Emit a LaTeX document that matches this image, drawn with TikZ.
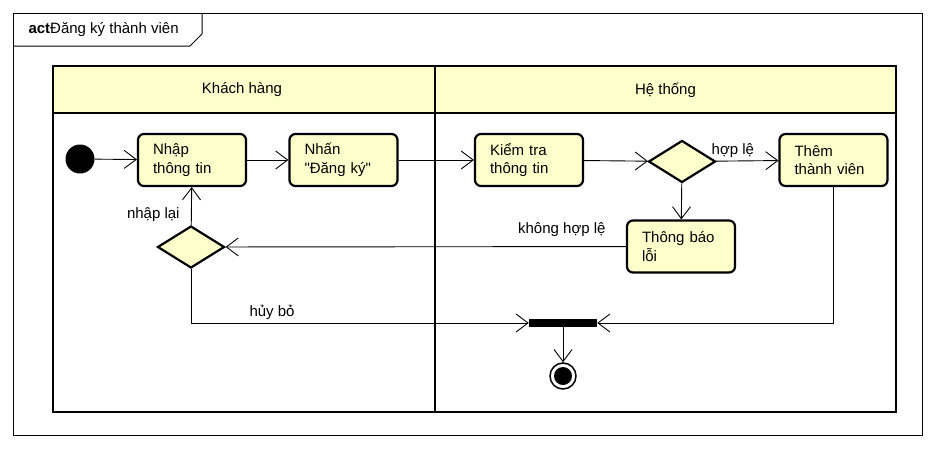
\documentclass[tikz,border=0pt]{standalone}
\usepackage{fontspec}
\setmainfont{Liberation Sans}
\usetikzlibrary{shapes.geometric,arrows.meta}

\definecolor{umlyellow}{RGB}{255,255,204}

\begin{document}
\begin{tikzpicture}[x=1pt, y=-1pt, font=\fontsize{15}{18.5}\selectfont]
    \tikzstyle{block} = [rectangle, rounded corners=6pt, draw, line width=2.2pt, fill=umlyellow, align=left, text width=78pt, inner xsep=15pt, inner ysep=0pt, minimum height=52pt]
    \tikzstyle{choice} = [diamond, draw, line width=2.2pt, fill=umlyellow, minimum width=67pt, minimum height=42pt, inner sep=0pt]
    \tikzstyle{lane} = [line width=2.2pt]
    \tikzstyle{arrow} = [->, >={Straight Barb[length=12pt,width=18pt]}, line width=0.9pt]

    \useasboundingbox (0,0) rectangle (936,448);

    % frame
    \draw [line width=1pt] (13,13) rectangle (922,435);
    \draw [line width=1pt] (13,46) -- (190,46) -- (202,34) -- (202,13);
    \node (title) [anchor=west] at (25,30) {\textbf{act}Đăng ký thành viên};

    % swimlanes
    \fill [umlyellow] (53,66) rectangle (896,113);
    \draw [lane] (53,66) rectangle (896,412);
    \draw [lane] (53,113) -- (896,113);
    \draw [lane] (435,66) -- (435,412);
    \node (customer) at (242,90) {Khách hàng};
    \node (system) at (665.5,90) {Hệ thống};

    \node (start) [circle, fill=black, minimum size=29pt, inner sep=0pt] at (80,159) {};
    \node (enter) [block] at (192,160) {Nhập\\thông tin};
    \node (press) [block] at (343.5,160) {Nhấn\\\textquotedbl Đăng ký\textquotedbl};
    \node (check) [block] at (529,160) {Kiểm tra\\thông tin};
    \node (valid) [choice] at (682,161.5) {};
    \node (add) [block] at (833.5,160) {Thêm\\thành viên};
    \node (error) [block] at (681,246.5) {Thông báo\\lỗi};
    \node (retry) [choice] at (191,247) {};
    \node (join) [rectangle, fill=black, minimum width=68pt, minimum height=8pt, inner sep=0pt] at (563,323) {};
    \node (final) [circle, draw, line width=1.5pt, minimum size=26pt, inner sep=0pt] at (563,376) {};
    \fill (final) circle (9);

    \draw [arrow] (start) -- (enter);
    \draw [arrow] (enter) -- (press);
    \draw [arrow] (press) -- (check);
    \draw [arrow] (check) -- (valid);
    \draw [arrow] (valid) -- node[pos=0.27, above] {hợp lệ} (add);
    \draw [arrow] (valid) -- (error);
    \draw [arrow] (error) -- node[pos=0.16, above=6pt] {không hợp lệ} (retry);
    \draw [arrow] (retry) -- node[pos=0.27, left=8pt] {nhập lại} (enter);
    \draw [arrow] (retry) |- node[pos=0.62, above] {hủy bỏ} (join);
    \draw [arrow] (add) |- (join);
    \draw [arrow] (join) -- (final);
\end{tikzpicture}
\end{document}
